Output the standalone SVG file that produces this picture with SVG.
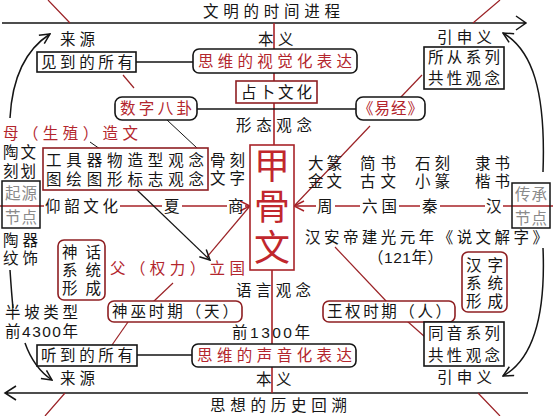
<svg xmlns="http://www.w3.org/2000/svg" width="553" height="416" viewBox="0 0 553 416">
<defs>
<style>
text{font-family:"Liberation Sans","Noto Sans CJK SC",sans-serif;font-size:15.5px;fill:#151515;dominant-baseline:central}
.rt{fill:#b3262d}
.gt{fill:#8a8a8a}
.big{font-size:36px;fill:#c1272d;text-anchor:middle}
.bx{fill:#fff;stroke:#151515;stroke-width:1.6}
.rbx{fill:#fff;stroke:#8e1f22;stroke-width:1.6}
.k{fill:none;stroke:#151515;stroke-width:1.5}
.r{fill:none;stroke:#9b2226;stroke-width:1.2}
.rr{fill:none;stroke:#a82329;stroke-width:1.6}
</style>
<marker id="ak" viewBox="0 0 12 12" refX="11" refY="6" markerWidth="12" markerHeight="12" markerUnits="userSpaceOnUse" orient="auto">
<path d="M1,1 L11,6 L1,11" fill="none" stroke="#151515" stroke-width="1.5"/>
</marker>
<marker id="ar" viewBox="0 0 12 12" refX="11" refY="6" markerWidth="12" markerHeight="12" markerUnits="userSpaceOnUse" orient="auto">
<path d="M1,1 L11,6 L1,11" fill="none" stroke="#a82329" stroke-width="1.5"/>
</marker>
</defs>
<rect width="553" height="416" fill="#fff"/>

<g id="connectors">
<path class="k" d="M2,23 L526,23 M516,16 L526,23 L516,30"/>
<path class="k" d="M5,393 L528,393 M16,386 L5,393 L16,400"/>
<path class="r" d="M48,0 L70,23 M500,0 L473,23 M65,393 L45,416 M478,393 L500,416"/>
<path class="rr" d="M274,23 L274,145 M272,270 L272,393"/>
<path class="k" d="M136,62 L193,62 M137,355 L192,355"/>
<path class="k" d="M197,109 L356,109"/>
<path class="k" d="M10,118 C12,80 25,50 50,34" marker-end="url(#ak)"/>
<path class="k" d="M543,172 C546,90 532,50 503,33" marker-end="url(#ak)"/>
<path class="k" d="M10,270 C11,285 12,298 13,308"/>
<path class="k" d="M25,343 C31,360 40,372 52,380" marker-end="url(#ak)"/>
<path class="k" d="M543,248 C546,320 532,360 503,376" marker-end="url(#ak)"/>
<path class="rr" d="M0,206 L44,206 M120,206 L162,206 M182,206 L227,206 M512,206 L553,206 M503,206 L512,206 M440,206 L485,206 M399,206 L420,206 M335,206 L360,206"/>
<path class="rr" d="M245,206 L250,206" marker-end="url(#ar)"/>
<path class="rr" d="M316,206 L294,206" marker-end="url(#ar)"/>
<path class="r" d="M123,75 L134,88"/>
<path class="r" d="M422,75 L400,98"/>
<path class="k" d="M167,120 L197,148" style="stroke-width:1"/>
<path class="k" d="M90,142 L100,149" style="stroke-width:1"/>
<path class="r" d="M370,126 L295,205"/>
<path class="r" d="M207,257 L250,206"/>
<path class="k" d="M137,190 L210,260" style="stroke-width:1.2" marker-end="url(#ak)"/>
<path class="r" d="M335,247 L387,302"/>
<path class="r" d="M173,283 L153,302"/>
<path class="r" d="M128,322 L112,345"/>
<path class="r" d="M407,321 L425,337"/>
</g>

<g id="title-top"><text x="203" y="11" textLength="137" lengthAdjust="spacing">文明的时间进程</text></g>
<g id="title-bottom"><text x="210" y="405" textLength="137" lengthAdjust="spacing">思想的历史回溯</text></g>

<g id="source-top"><text x="60" y="39" textLength="35" lengthAdjust="spacing">来源</text></g>
<g id="meaning-top"><text y="39"><tspan x="258">本</tspan><tspan x="278">义</tspan></text></g>
<g id="extended-top"><text x="437" y="37" textLength="55" lengthAdjust="spacing">引申义</text></g>

<g id="seen"><rect class="bx" x="37" y="52" width="99" height="20"/><text x="41" y="62" textLength="92" lengthAdjust="spacing">见到的所有</text></g>
<g id="visual"><rect class="bx" x="193" y="49" width="164" height="24" rx="6"/><text class="rt" x="198" y="61" textLength="154" lengthAdjust="spacing">思维的视觉化表达</text></g>
<g id="congxi"><rect class="bx" x="424" y="47" width="80" height="42"/><text><tspan x="428" y="57" textLength="72" lengthAdjust="spacing">所从系列</tspan><tspan x="428" y="78" textLength="72" lengthAdjust="spacing">共性观念</tspan></text></g>
<g id="divination"><rect class="rbx" x="236" y="81" width="81" height="22"/><text x="241" y="92" textLength="71" lengthAdjust="spacing">占卜文化</text></g>
<g id="bagua"><rect class="bx" x="115" y="97" width="82" height="23" rx="7"/><text class="rt" x="120" y="108" textLength="72" lengthAdjust="spacing">数字八卦</text></g>
<g id="yijing"><rect class="bx" x="356" y="97" width="69" height="23" rx="7"/><text class="rt" x="358" y="108" textLength="65" lengthAdjust="spacing">《易经》</text></g>
<g id="form"><text x="236" y="125" textLength="76" lengthAdjust="spacing">形态观念</text></g>
<g id="mother"><text class="rt" x="3" y="133" textLength="135" lengthAdjust="spacing">母（生殖）造文</text></g>
<g id="pottery-marks"><text><tspan x="3" y="152" textLength="33" lengthAdjust="spacing">陶文</tspan><tspan x="3" y="171" textLength="33" lengthAdjust="spacing">刻划</tspan></text></g>
<g id="tools"><rect class="rbx" x="43" y="148" width="165" height="42"/><text><tspan x="46" y="160" textLength="158" lengthAdjust="spacing">工具器物造型观念</tspan><tspan x="46" y="179" textLength="158" lengthAdjust="spacing">图绘图形标志观念</tspan></text></g>
<g id="bone-carving"><text><tspan x="210" y="160" textLength="35" lengthAdjust="spacing">骨刻</tspan><tspan x="210" y="178" textLength="35" lengthAdjust="spacing">文字</tspan></text></g>
<g id="jiaguwen"><rect class="rbx" x="250" y="145" width="44" height="125" style="stroke:#a82329"/><text class="big"><tspan x="272" y="166">甲</tspan><tspan x="272" y="207">骨</tspan><tspan x="272" y="248">文</tspan></text></g>
<g id="dazhuan"><text><tspan x="308" y="163" textLength="34" lengthAdjust="spacing">大篆</tspan><tspan x="308" y="181" textLength="34" lengthAdjust="spacing">金文</tspan></text></g>
<g id="jianshu"><text><tspan x="360" y="163" textLength="36" lengthAdjust="spacing">简书</tspan><tspan x="360" y="181" textLength="36" lengthAdjust="spacing">古文</tspan></text></g>
<g id="shike"><text><tspan x="415" y="163" textLength="35" lengthAdjust="spacing">石刻</tspan><tspan x="415" y="181" textLength="35" lengthAdjust="spacing">小篆</tspan></text></g>
<g id="lishu"><text><tspan x="475" y="163" textLength="35" lengthAdjust="spacing">隶书</tspan><tspan x="475" y="181" textLength="35" lengthAdjust="spacing">楷书</tspan></text></g>
<g id="origin-node"><rect x="2" y="181" width="38" height="47" fill="none" stroke="#151515" stroke-width="1.5"/><text class="gt"><tspan x="5" y="193" textLength="32" lengthAdjust="spacing">起源</tspan><tspan x="5" y="217" textLength="32" lengthAdjust="spacing">节点</tspan></text></g>
<g id="inherit-node"><rect x="512" y="183" width="38" height="45" fill="none" stroke="#151515" stroke-width="1.5"/><text class="gt"><tspan x="515" y="194" textLength="32" lengthAdjust="spacing">传承</tspan><tspan x="515" y="218" textLength="32" lengthAdjust="spacing">节点</tspan></text></g>
<g id="yangshao"><text x="45" y="206" textLength="73" lengthAdjust="spacing">仰韶文化</text></g>
<g id="xia"><text x="164" y="206">夏</text></g>
<g id="shang"><text x="228" y="206">商</text></g>
<g id="zhou"><text x="317" y="206">周</text></g>
<g id="liuguo"><text x="362" y="206" textLength="35" lengthAdjust="spacing">六国</text></g>
<g id="qin"><text x="422" y="206">秦</text></g>
<g id="han"><text x="486" y="206">汉</text></g>
<g id="shuowen"><text><tspan x="305" y="237" textLength="243" lengthAdjust="spacing">汉安帝建光元年《说文解字》</tspan><tspan x="368" y="257" textLength="75" lengthAdjust="spacing">（121年）</tspan></text></g>
<g id="pottery-pattern"><text><tspan x="3" y="240" textLength="35" lengthAdjust="spacing">陶器</tspan><tspan x="3" y="258" textLength="35" lengthAdjust="spacing">纹饰</tspan></text></g>
<g id="myth"><rect class="rbx" x="58" y="240" width="47" height="60" rx="6"/><text><tspan x="62" y="252" textLength="39" lengthAdjust="spacing">神话</tspan><tspan x="62" y="270" textLength="39" lengthAdjust="spacing">系统</tspan><tspan x="62" y="288" textLength="39" lengthAdjust="spacing">形成</tspan></text></g>
<g id="hanzi"><rect class="rbx" x="462" y="252" width="45" height="60" rx="6"/><text><tspan x="466" y="265" textLength="37" lengthAdjust="spacing">汉字</tspan><tspan x="466" y="283" textLength="37" lengthAdjust="spacing">系统</tspan><tspan x="466" y="301" textLength="37" lengthAdjust="spacing">形成</tspan></text></g>
<g id="father"><text class="rt" x="110" y="268" textLength="135" lengthAdjust="spacing">父（权力）立国</text></g>
<g id="language"><text x="236" y="290" textLength="75" lengthAdjust="spacing">语言观念</text></g>
<g id="banpo"><text><tspan x="5" y="312" textLength="73" lengthAdjust="spacing">半坡类型</tspan><tspan x="5" y="331" textLength="73" lengthAdjust="spacing">前4300年</tspan></text></g>
<g id="shaman"><rect class="rbx" x="108" y="301" width="134" height="21" rx="6"/><text x="112" y="311" textLength="126" lengthAdjust="spacing">神巫时期（天）</text></g>
<g id="king"><rect class="rbx" x="323" y="301" width="132" height="21" rx="6"/><text x="327" y="311" textLength="124" lengthAdjust="spacing">王权时期（人）</text></g>
<g id="bc1300"><text x="232" y="332" textLength="78" lengthAdjust="spacing">前1300年</text></g>
<g id="tongyin"><rect class="bx" x="424" y="322" width="80" height="44"/><text><tspan x="428" y="333" textLength="72" lengthAdjust="spacing">同音系列</tspan><tspan x="428" y="355" textLength="72" lengthAdjust="spacing">共性观念</tspan></text></g>
<g id="heard"><rect class="bx" x="37" y="345" width="100" height="21"/><text x="41" y="355" textLength="92" lengthAdjust="spacing">听到的所有</text></g>
<g id="sound"><rect class="bx" x="192" y="344" width="164" height="23" rx="6"/><text class="rt" x="197" y="355" textLength="155" lengthAdjust="spacing">思维的声音化表达</text></g>
<g id="source-bottom"><text x="60" y="378" textLength="35" lengthAdjust="spacing">来源</text></g>
<g id="meaning-bottom"><text y="379"><tspan x="256">本</tspan><tspan x="276">义</tspan></text></g>
<g id="extended-bottom"><text x="437" y="377" textLength="55" lengthAdjust="spacing">引申义</text></g>
</svg>
